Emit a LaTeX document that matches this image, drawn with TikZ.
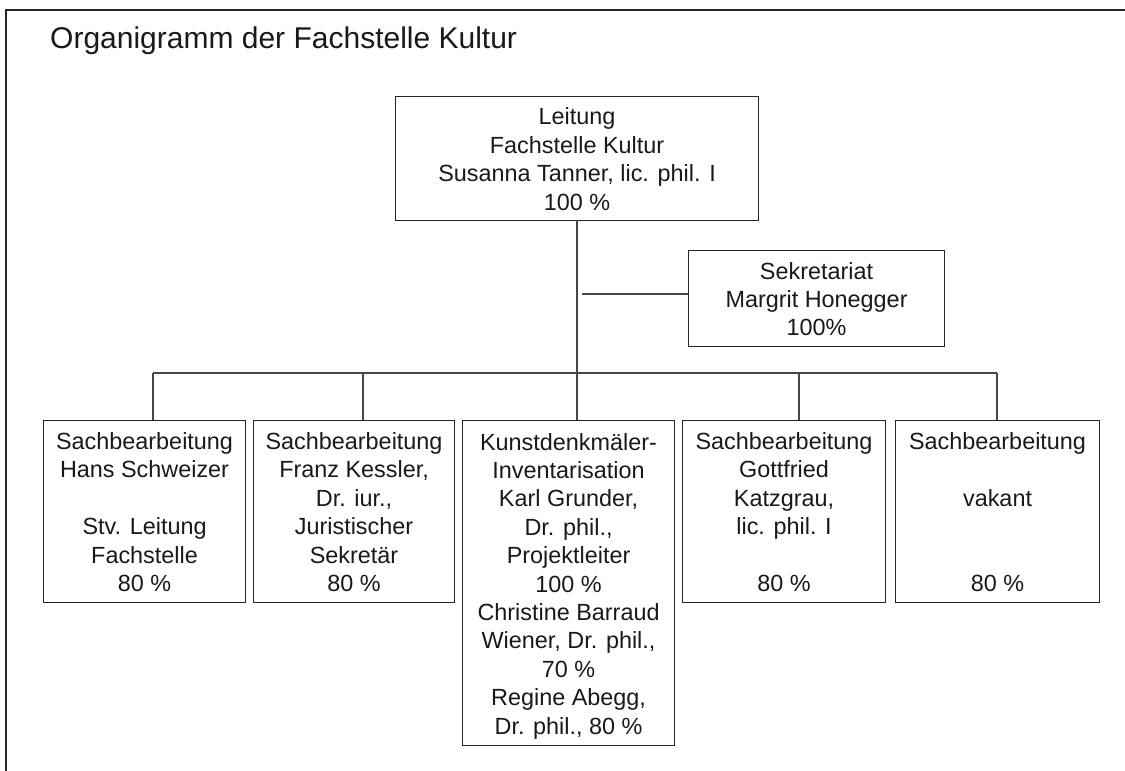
\documentclass[tikz,border=0pt]{standalone}
\usepackage{fontspec}
\setmainfont{Liberation Sans}
\newcommand\ms{\rule[-5.2bp]{0pt}{28.4bp}}
\begin{document}
\begin{tikzpicture}[x=1bp,y=-1bp,
  box/.style={draw=black!85, line width=1.1bp, anchor=north west, inner sep=0pt,
    align=center, text=black!90, font=\fontsize{23.4bp}{28.4bp}\selectfont},
  conn/.style={draw=black!72, line width=1.1bp},
  frame/.style={draw=black!85, line width=1.5bp}]
\useasboundingbox (0,0) rectangle (1125,771);
% outer frame
\draw[frame] (6,771) -- (6,10) -- (1125,10);
% title
\node[anchor=base west, inner sep=0pt, text=black!90,
  font=\fontsize{30bp}{36bp}\selectfont] (title) at (50,49) {Organigramm der Fachstelle Kultur};
% boxes
\node[box, minimum width=363bp, minimum height=124bp] (lead) at (395,96)
  {\ms Leitung\\\ms Fachstelle Kultur\\\ms Susanna Tanner, lic. phil. I\\\ms 100 \%};
\node[box, minimum width=256bp, minimum height=96bp] (sek) at (688,250)
  {\ms Sekretariat\\\ms Margrit Honegger\\\ms 100\%};
\node[box, minimum width=202bp, minimum height=182bp] (b1) at (43,420)
  {\ms Sachbearbeitung\\\ms Hans Schweizer\\\ms\\\ms Stv. Leitung\\\ms Fachstelle\\\ms 80 \%};
\node[box, minimum width=201bp, minimum height=182bp] (b2) at (253,420)
  {\ms Sachbearbeitung\\\ms Franz Kessler,\\\ms Dr. iur.,\\\ms Juristischer\\\ms Sekretär\\\ms 80 \%};
\node[box, minimum width=212bp, minimum height=325bp] (b3) at (462,420)
  {\ms Kunstdenkmäler-\\\ms Inventarisation\\\ms Karl Grunder,\\\ms Dr. phil.,\\\ms Projektleiter\\\ms 100 \%\\\ms Christine Barraud\\\ms Wiener, Dr. phil.,\\\ms 70 \%\\\ms Regine Abegg,\\\ms Dr. phil., 80 \%};
\node[box, minimum width=203bp, minimum height=182bp] (b4) at (682,420)
  {\ms Sachbearbeitung\\\ms Gottfried\\\ms Katzgrau,\\\ms lic. phil. I\\\ms\\\ms 80 \%};
\node[box, minimum width=204bp, minimum height=182bp] (b5) at (895,420)
  {\ms Sachbearbeitung\\\ms\\\ms vakant\\\ms\\\ms\\\ms 80 \%};
% bus coordinates
\coordinate (t1) at (153,373);
\coordinate (t2) at (363,373);
\coordinate (t3) at (577,373);
\coordinate (t4) at (799,373);
\coordinate (t5) at (997,373);
\coordinate (s0) at (582,294);
\coordinate (lx) at (577,220);
% connectors
\draw[conn] (t1) -- (t5);
\draw[conn] (lx) -- (lx |- b3.north);
\draw[conn] (s0) -- (s0 -| sek.west);
\draw[conn] (t1) -- (t1 |- b1.north);
\draw[conn] (t2) -- (t2 |- b2.north);
\draw[conn] (t4) -- (t4 |- b4.north);
\draw[conn] (t5) -- (t5 |- b5.north);
\end{tikzpicture}
\end{document}
